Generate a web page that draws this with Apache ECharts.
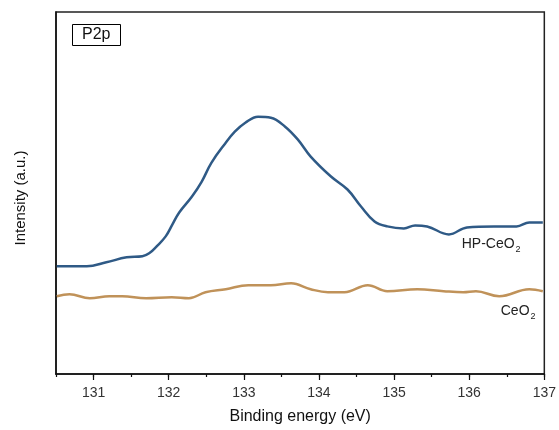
<!DOCTYPE html>
<html>
<head>
<meta charset="utf-8">
<script src="https://cdn.jsdelivr.net/npm/echarts@6/dist/echarts.min.js"></script>
<style>html,body{margin:0;padding:0;background:#fff;}#c{width:559px;height:430px;}</style>
</head>
<body>
<div id="c"></div>
<script>
// Binding energy (eV) and intensity (a.u., arbitrary scale)
const hpEnergy = [130.51,130.91,131.17,131.44,131.65,131.74,131.84,131.96,132.05,132.14,132.31,132.44,132.57,132.75,132.88,133.02,133.19,133.36,133.55,133.72,133.89,134.16,134.38,134.56,134.74,134.91,135.13,135.28,135.44,135.73,135.97,136.33,136.63,136.80,136.98];
const hpIntensity = [108,108,112,117,118,121,128,138,150,162,178,193,212,231,243,252,258,257,248,235,218,198,185,168,153,148,146,149,148,140,147,148,148,152,152];
const ceEnergy = [130.51,130.68,130.95,131.21,131.38,131.70,132.04,132.27,132.49,132.76,133.06,133.36,133.63,133.89,134.12,134.34,134.65,134.91,135.31,135.66,135.92,136.09,136.40,136.80,136.98];
const ceIntensity = [78,80,76,78,78,76,77,76,82,85,89,89,91,85,82,82,89,83,85,83,82,83,78,85,83];
const xTicks = [131,132,133,134,135,136,137];
const seriesNames = ['HP-CeO2','CeO2'];

const font = 'Liberation Sans, Arial, sans-serif';
const zip = (a,b) => a.map((v,i)=>[v,b[i]]);
const chart = echarts.init(document.getElementById('c'), null, {renderer:'canvas'});
const labelRich = {
  a:{fontSize:14, color:'#222', fontFamily:font},
  s:{fontSize:9, color:'#222', fontFamily:font, padding:[10,0,0,1]}
};
chart.setOption({
  animation:false,
  backgroundColor:'#fff',
  title:{text:'P2p', left:72, top:24, borderColor:'#000', borderWidth:1, padding:[3,10,3,10],
    textStyle:{fontSize:16, fontWeight:'normal', color:'#111', fontFamily:font}},
  grid:{left:56, right:10, top:12, bottom:55, show:true, borderColor:'#222', borderWidth:1.5},
  xAxis:[
    {type:'value', min:130.5, max:137, interval:0.5, position:'bottom',
      name:'Binding energy (eV)', nameLocation:'middle', nameGap:35,
      nameTextStyle:{fontSize:16, color:'#111', fontFamily:font},
      axisLine:{lineStyle:{color:'#111', width:1.5}},
      axisTick:{show:true, customValues:xTicks, length:6, lineStyle:{color:'#111', width:1.2}},
      axisLabel:{margin:12, fontSize:14, color:'#333', fontFamily:font, customValues:xTicks},
      splitLine:{show:false}},
    {type:'value', min:130.5, max:137, interval:0.5, position:'bottom', offset:0,
      axisLine:{show:false},
      axisTick:{show:true, length:3, lineStyle:{color:'#111', width:1.2}},
      axisLabel:{show:false}, splitLine:{show:false}}
  ],
  yAxis:{type:'value', min:0, max:363,
    name:'Intensity (a.u.)', nameLocation:'middle', nameGap:28,
    nameTextStyle:{fontSize:15, color:'#111', fontFamily:font, padding:[0,0,0,-10]},
    axisLine:{show:true, lineStyle:{color:'#111', width:1.5}},
    axisTick:{show:false}, axisLabel:{show:false}, splitLine:{show:false}},
  series:[
    {name:seriesNames[0], type:'line', data:zip(hpEnergy,hpIntensity), showSymbol:false, smooth:0.4,
      lineStyle:{color:'#2f5a86', width:2.5}, itemStyle:{color:'#2f5a86'},
      markPoint:{symbolSize:0, data:[{coord:[135.9,130], label:{show:true, position:'right', distance:0,
        formatter:'{a|HP-CeO}{s|2}', rich:labelRich}}]}},
    {name:seriesNames[1], type:'line', data:zip(ceEnergy,ceIntensity), showSymbol:false, smooth:0.4,
      lineStyle:{color:'#c09259', width:2.5}, itemStyle:{color:'#c09259'},
      markPoint:{symbolSize:0, data:[{coord:[136.42,63], label:{show:true, position:'right', distance:0,
        formatter:'{a|CeO}{s|2}', rich:labelRich}}]}}
  ]
});
</script>
</body>
</html>
